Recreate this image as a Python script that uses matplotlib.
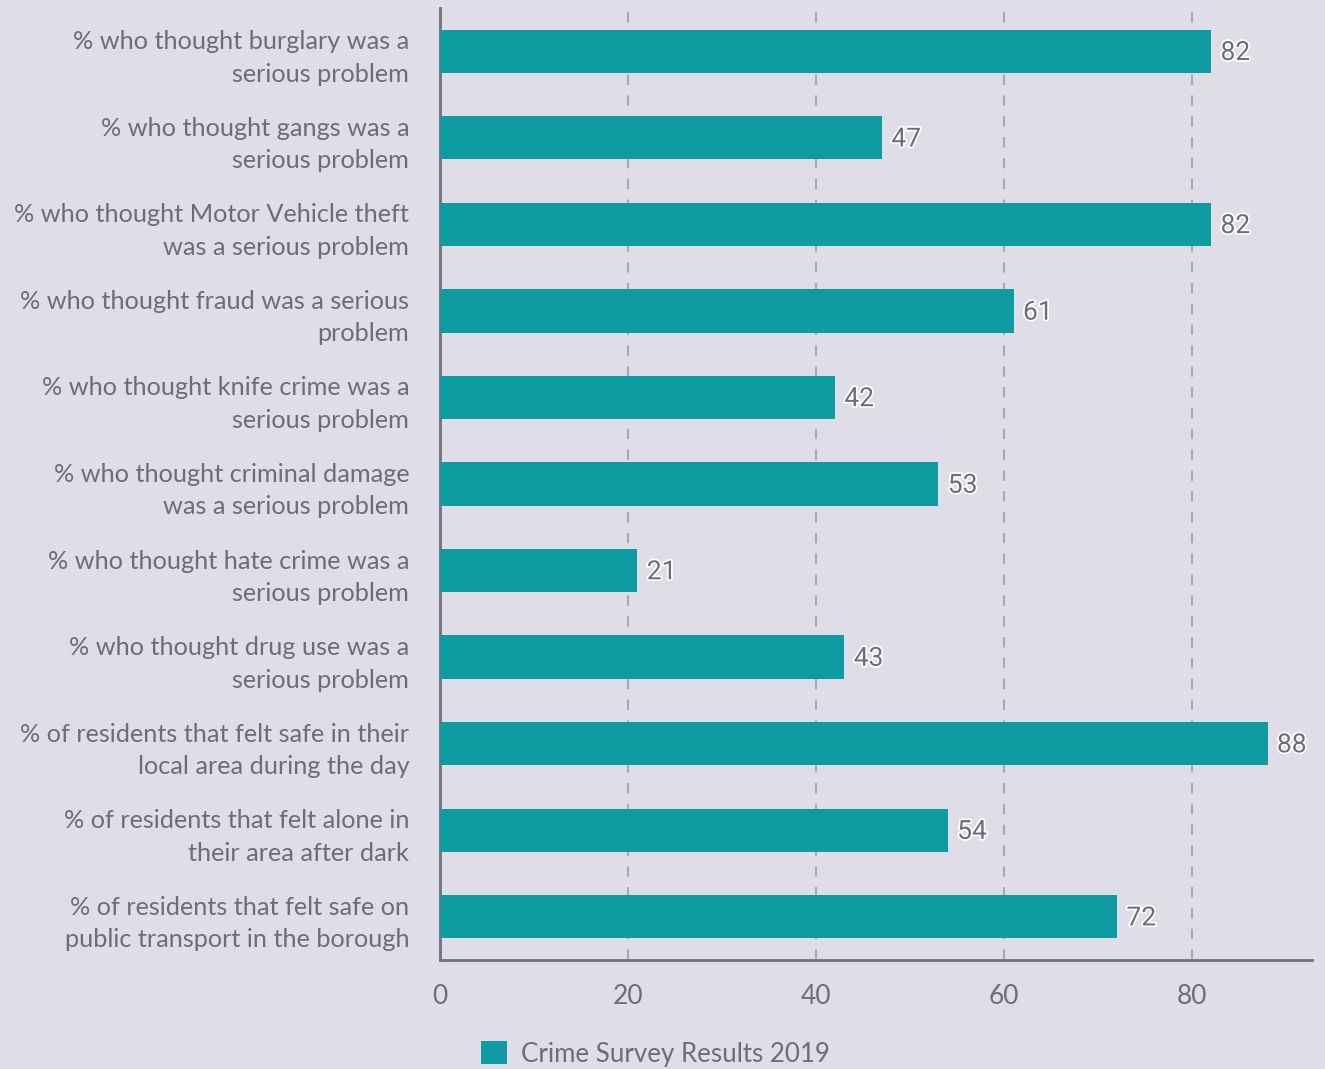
import matplotlib.pyplot as plt
import matplotlib.patheffects as pe
from matplotlib.patches import Patch

categories = [
    "% who thought burglary was a\nserious problem",
    "% who thought gangs was a\nserious problem",
    "% who thought Motor Vehicle theft\nwas a serious problem",
    "% who thought fraud was a serious\nproblem",
    "% who thought knife crime was a\nserious problem",
    "% who thought criminal damage\nwas a serious problem",
    "% who thought hate crime was a\nserious problem",
    "% who thought drug use was a\nserious problem",
    "% of residents that felt safe in their\nlocal area during the day",
    "% of residents that felt alone in\ntheir area after dark",
    "% of residents that felt safe on\npublic transport in the borough",
]
values = [82, 47, 82, 61, 42, 53, 21, 43, 88, 54, 72]
xticks = [0, 20, 40, 60, 80]
series_name = "Crime Survey Results 2019"

bg = "#dfdde7"
bar_color = "#0e9ca2"
text_color = "#6b6e75"

plt.rcParams['font.family'] = ['Lato', 'DejaVu Sans']

fig = plt.figure(figsize=(13.25, 10.69), dpi=100, facecolor=bg)
ax = fig.add_axes([0.332, 0.102, 0.658, 0.8905])
ax.set_facecolor(bg)

y = list(range(len(categories)))
ax.barh(y, values, height=0.5, color=bar_color, zorder=3)

for yi, v in zip(y, values):
    ax.text(v + 1.0, yi + 0.02, str(v), va='center', ha='left', fontsize=19,
            color=text_color, family=['Roboto', 'DejaVu Sans'], zorder=4,
            path_effects=[pe.withStroke(linewidth=2.5, foreground='white')])

ax.set_ylim(10.5, -0.5)
ax.set_xlim(0, 92.7)
ax.set_yticks(y)
ax.set_yticklabels(categories, fontsize=18.2, color=text_color, linespacing=1.5)
ax.set_xticks(xticks)
ax.set_xticklabels([str(t) for t in xticks], fontsize=19, color=text_color)
ax.tick_params(axis='y', length=0, pad=22)
ax.tick_params(axis='x', length=0, pad=17)

ax.grid(axis='x', linestyle=(0, (5, 5)), color='#a9a9b0', linewidth=1.5, zorder=1)
for s in ['top', 'right']:
    ax.spines[s].set_visible(False)
for s in ['left', 'bottom']:
    ax.spines[s].set_color('#70737a')
    ax.spines[s].set_linewidth(2)

fig.legend(handles=[Patch(facecolor=bar_color, label=series_name)],
           loc='center', bbox_to_anchor=(0.4947, 0.014), frameon=False,
           fontsize=18.6, labelcolor=text_color, handlelength=1.0, handleheight=1.0,
           handletextpad=0.55)

fig.savefig("out.png", dpi=100, facecolor=bg)
